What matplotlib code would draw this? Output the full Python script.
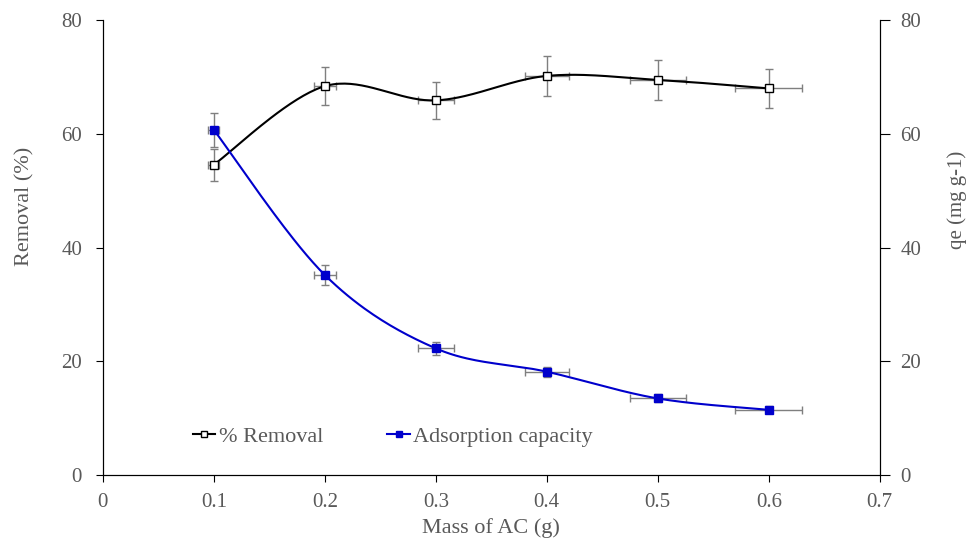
import numpy as np
import matplotlib
matplotlib.use("Agg")
import matplotlib.pyplot as plt

plt.rcParams["font.family"] = ["Liberation Serif", "DejaVu Serif"]
plt.rcParams["font.size"] = 12

mass = [0.1, 0.2, 0.3, 0.4, 0.5, 0.6]
mass_err = [0.005, 0.01, 0.016, 0.02, 0.025, 0.03]
removal = [54.6, 68.4, 65.9, 70.2, 69.5, 68.0]
removal_err = [2.8, 3.4, 3.3, 3.5, 3.5, 3.4]
qe = [60.7, 35.2, 22.3, 18.2, 13.5, 11.5]
qe_err = [3.0, 1.7, 1.1, 0.9, 0.7, 0.6]

grey = "#595959"


def smooth(x, y, n=40):
    # excel style smoothed line: bezier segments with 1/6 tension
    x = np.asarray(x, float)
    y = np.asarray(y, float)
    px = np.concatenate([[x[0]], x, [x[-1]]])
    py = np.concatenate([[y[0]], y, [y[-1]]])
    xs, ys = [], []
    t = np.linspace(0, 1, n)
    for i in range(1, len(x)):
        p0 = np.array([px[i], py[i]])
        p3 = np.array([px[i + 1], py[i + 1]])
        c1 = p0 + (p3 - np.array([px[i - 1], py[i - 1]])) / 6
        c2 = p3 - (np.array([px[i + 2], py[i + 2]]) - p0) / 6
        pts = ((1 - t) ** 3)[:, None] * p0 + (3 * (1 - t) ** 2 * t)[:, None] * c1 \
            + (3 * (1 - t) * t ** 2)[:, None] * c2 + (t ** 3)[:, None] * p3
        xs.extend(pts[:, 0])
        ys.extend(pts[:, 1])
    return xs, ys


fig = plt.figure(figsize=(9.71, 5.45), dpi=100)
ax = fig.add_axes([0.106, 0.128, 0.8, 0.835])
ax2 = ax.twinx()

ax.errorbar(mass, removal, yerr=removal_err, xerr=mass_err, fmt="none",
            ecolor="#7f7f7f", elinewidth=1, capsize=3, zorder=2)
sx, sy = smooth(mass, removal)
ax.plot(sx, sy, "-", color="black", lw=1.5, zorder=3)
ax.plot(mass, removal, "s", ms=5.5, mfc="white", mec="black", mew=1, zorder=4)

ax2.errorbar(mass, qe, yerr=qe_err, xerr=mass_err, fmt="none",
             ecolor="#7f7f7f", elinewidth=1, capsize=3, zorder=2)
sx, sy = smooth(mass, qe)
ax2.plot(sx, sy, "-", color="#0000cc", lw=1.5, zorder=3)
ax2.plot(mass, qe, "s", ms=5.5, mfc="#0000cc", mec="#0000cc", zorder=4)

# legend handles
l1, = ax.plot([], [], "-s", color="black", ms=4.5, mfc="white", lw=1.5)
l2, = ax.plot([], [], "-s", color="#0000cc", ms=4.5, lw=1.5)
leg = ax.legend([l1, l2], ["% Removal", "Adsorption capacity"], ncol=2,
                frameon=False, loc="center left",
                bbox_to_anchor=(0.116, 0.085), borderaxespad=0, borderpad=0,
                handlelength=1.0, handletextpad=0.15, columnspacing=2.9,
                fontsize=16)
for txt in leg.get_texts():
    txt.set_color(grey)

for a in (ax, ax2):
    a.set_xlim(0, 0.7)
    a.set_ylim(0, 80)
    a.set_yticks([0, 20, 40, 60, 80])
    a.spines["top"].set_visible(False)
    a.tick_params(direction="out", colors="black", labelcolor=grey,
                  labelsize=15)
ax.tick_params(axis="y", length=5, pad=10)
ax.tick_params(axis="x", length=5, pad=8)
ax2.tick_params(axis="y", length=7, pad=8)

ax.set_xticks(np.arange(0, 0.71, 0.1))
ax.set_xticklabels(["0", "0.1", "0.2", "0.3", "0.4", "0.5", "0.6", "0.7"])
ax.set_xlabel("Mass of AC (g)", color=grey, fontsize=16)
ax.xaxis.set_label_coords(0.5, -0.095)
ax.set_ylabel("Removal (%)", color=grey, fontsize=16)
ax.yaxis.set_label_coords(-0.0875, 0.59)
ax2.set_ylabel("qe (mg g-1)", color=grey, fontsize=15)
ax2.yaxis.set_label_coords(1.0875, 0.605)

fig.savefig("out.png", dpi=100)
